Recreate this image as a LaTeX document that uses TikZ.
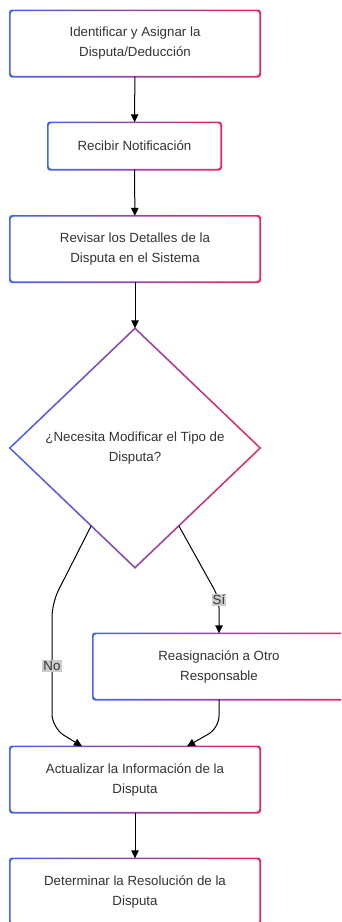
\documentclass[tikz,border=0pt]{standalone}
\usepackage{fontspec}
\setmainfont{Liberation Sans}
\usetikzlibrary{arrows.meta,shapes.geometric,calc}
\definecolor{gA}{RGB}{70,100,240}
\definecolor{gB}{RGB}{232,40,100}
\definecolor{txt}{RGB}{51,51,51}
\definecolor{lbl}{RGB}{204,204,204}
\newcommand{\gborder}[1]{%
  \shade[left color=gA, right color=gB, even odd rule, rounded corners=3pt]
    ([shift={(-0.8pt,-0.8pt)}]#1.south west) rectangle ([shift={(0.8pt,0.8pt)}]#1.north east)
    ([shift={(0.8pt,0.8pt)}]#1.south west) rectangle ([shift={(-0.8pt,-0.8pt)}]#1.north east);}
\newcommand{\gdiamond}[1]{%
  \shade[left color=gA, right color=gB, even odd rule]
    ([yshift=1.1pt]#1.north) -- ([xshift=1.1pt]#1.east) -- ([yshift=-1.1pt]#1.south) -- ([xshift=-1.1pt]#1.west) -- cycle
    ([yshift=-1.1pt]#1.north) -- ([xshift=-1.1pt]#1.east) -- ([yshift=1.1pt]#1.south) -- ([xshift=1.1pt]#1.west) -- cycle;}
\tikzset{
  procbox/.style={rectangle, rounded corners=3pt, fill=white, minimum width=250pt, minimum height=66pt,
    inner sep=0pt, align=center, text=txt, font=\fontsize{13.3}{20}\selectfont},
  decbox/.style={diamond, aspect=1, fill=white, minimum width=250pt, minimum height=239pt,
    inner sep=0pt, align=center, text=txt, font=\fontsize{13.3}{20}\selectfont},
  arr/.style={draw=black, line width=1pt, -{Triangle[length=8pt,width=7.5pt]}},
  lab/.style={fill=lbl, inner sep=1.2pt, text=txt, font=\fontsize{13.3}{16}\selectfont}
}
\begin{document}
\begin{tikzpicture}[x=1pt,y=-1pt]
\useasboundingbox (0,0) rectangle (341,922);
\clip (0,0) rectangle (341,922);
\fill[white] (0,0) rectangle (341,922);
\node[procbox] (n1) at (135,43.5) {Identificar y Asignar la\\Disputa/Deducción};
\node[procbox, minimum width=173pt, minimum height=47pt] (n2) at (134.5,146) {Recibir Notificación};
\node[procbox] (n3) at (135,249) {Revisar los Detalles de la\\Disputa en el Sistema};
\node[decbox] (d) at (135,448) {¿Necesita Modificar el Tipo de\\Disputa?};
\node[procbox, minimum width=252pt] (r) at (219,666.5) {Reasignación a Otro\\Responsable};
\node[procbox] (act) at (135,779.5) {Actualizar la Información de la\\Disputa};
\node[procbox] (det) at (135,891.5) {Determinar la Resolución de la\\Disputa};
\gborder{n1}\gborder{n2}\gborder{n3}\gborder{r}\gborder{act}\gborder{det}
\gdiamond{d}
\draw[arr] (n1) -- (n2);
\draw[arr] (n2) -- (n3);
\draw[arr] (n3) -- (d);
\coordinate (dno) at ($(d.west)!0.65!(d.south)$);
\coordinate (dyes) at ($(d.east)!0.65!(d.south)$);
\coordinate (noturn) at (52,603);
\coordinate (nodown) at (52,728);
\coordinate (actin1) at ($(act.north)+(-53,0)$);
\coordinate (actin2) at ($(act.north)+(52,0)$);
\coordinate (yesturn) at (219,598);
\coordinate (rdown) at (219,728);
\draw[arr, rounded corners=14pt] (dno) -- (noturn) -- (nodown) -- (actin1);
\draw[arr, rounded corners=10pt] (dyes) -- (yesturn) -- (r.north);
\draw[arr, rounded corners=12pt] (r.south) -- (rdown) -- (actin2);
\draw[arr] (det.north |- act.south) -- (det.north);
\node[lab] (lno) at (52,666) {No};
\node[lab] (lyes) at (219,600) {Sí};
\end{tikzpicture}
\end{document}
